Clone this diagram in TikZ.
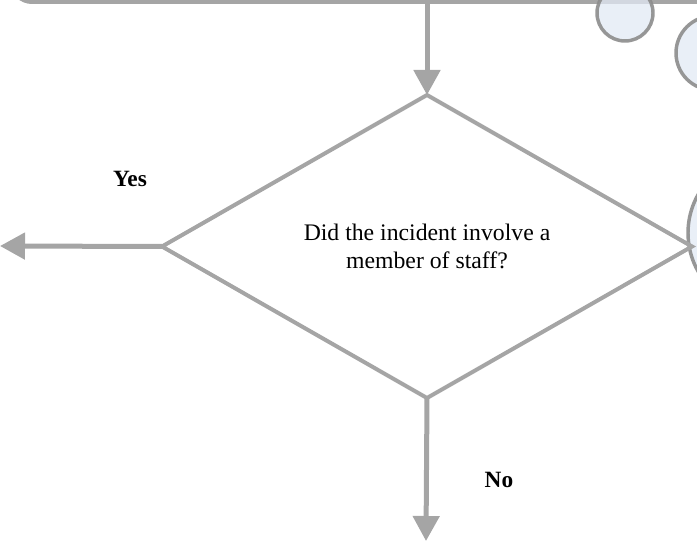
\documentclass[tikz,border=0pt]{standalone}
\usepackage{fontspec}
\setmainfont{Liberation Serif}
\usetikzlibrary{arrows.meta,positioning,shapes.geometric}
\definecolor{linegray}{RGB}{165,165,165}
\definecolor{bubblegray}{RGB}{140,140,140}
\definecolor{bubbleblue}{RGB}{226,233,244}
\tikzstyle{topbox} = [rectangle, rounded corners=15pt, minimum width=561pt, minimum height=46.5pt, draw=linegray, line width=3pt, fill=white]
\tikzstyle{bubble} = [circle, draw=bubblegray, line width=2.6pt, fill=bubbleblue, fill opacity=0.75, draw opacity=0.9]
\tikzstyle{decision} = [diamond, minimum width=397.5pt, minimum height=227.25pt, inner sep=0pt, outer sep=0pt, align=center, draw=linegray, line width=3pt, font=\fontsize{17.8}{21}\selectfont]
\tikzstyle{answer} = [font=\fontsize{17.5}{20}\selectfont\bfseries]
\tikzstyle{arrow} = [draw=linegray, line width=3.75pt, -{Triangle[length=18.75pt,width=19.5pt]}]

\begin{document}
\begin{tikzpicture}[x=0.75pt, y=-0.75pt]
\useasboundingbox (0,0) rectangle (697,541);
\node (report) [topbox] at (386,-29) {};
\node (bubbleA) [bubble, minimum size=42pt] at (625,13) {};
\node (bubbleB) [bubble, minimum size=55.5pt] at (713,53) {};
\node (bubbleC) [bubble, minimum size=117pt] at (766,233) {};
\node (question) [decision] at (427,246.5) {Did the incident involve a\\member of staff?};
\node (yestext) [answer] at (130,179) {Yes};
\node (notext) [answer] at (499,480) {No};
\coordinate (yes) at (0,246);
\coordinate (no) at (426,541);

\draw [arrow] (report.south -| question.north) -- (question.north);
\draw [arrow] (question.west) -- (yes);
\draw [arrow] (question.south) -- (no);
\end{tikzpicture}
\end{document}
